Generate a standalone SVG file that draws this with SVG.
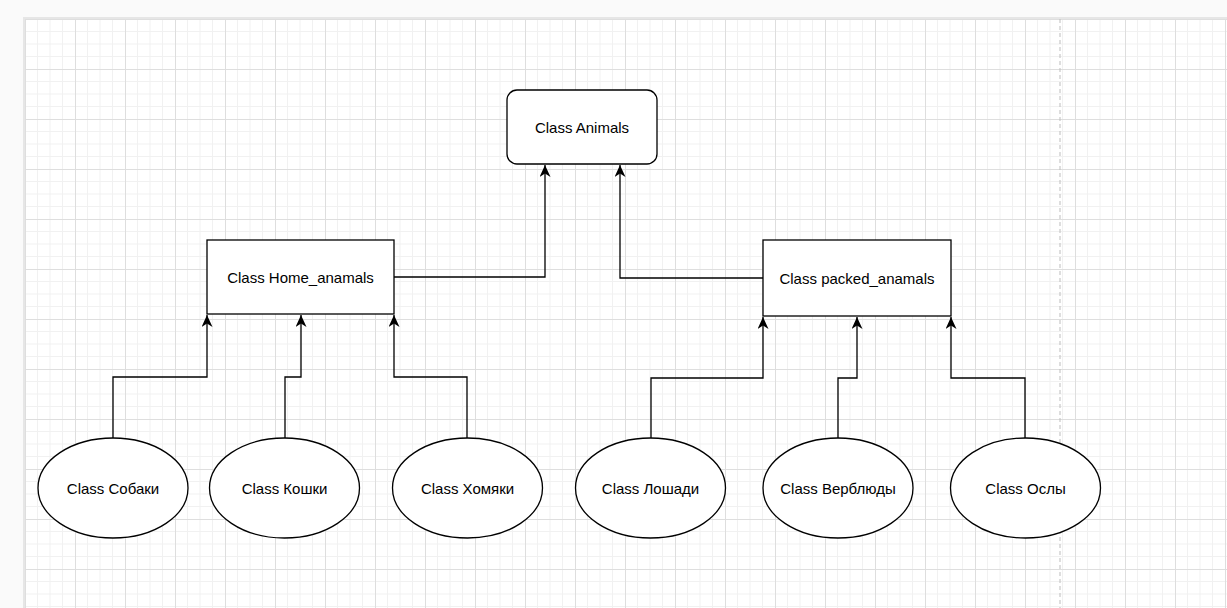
<svg xmlns="http://www.w3.org/2000/svg" width="1227" height="608" viewBox="0 0 1227 608">
<style>
.box{fill:#fff;stroke:#000;stroke-width:1.3}
.lbl{font-family:"Liberation Sans",Arial,sans-serif;font-size:15px;fill:#000;text-anchor:middle}
.edge{fill:none;stroke:#000;stroke-width:1.3}
</style>
<defs>
<pattern id="grid" patternUnits="userSpaceOnUse" x="25" y="19" width="50" height="50">
<rect width="50" height="50" fill="#fff"/>
<path d="M12.5 0V50M25 0V50M37.5 0V50M0 12.5H50M0 25H50M0 37.5H50" stroke="#f1f1f1" stroke-width="1"/>
<path d="M0.5 0V50M0 0.5H50" stroke="#dedede" stroke-width="1"/>
</pattern>
<marker id="arr" viewBox="0 0 12 11" refX="12" refY="5.5" markerWidth="12" markerHeight="11" markerUnits="userSpaceOnUse" orient="auto">
<path d="M12 5.5L0 0L3.5 5.5L0 11Z" fill="#000"/>
</marker>
</defs>
<rect width="1227" height="608" fill="#fafafa"/>
<rect x="23" y="17" width="1210" height="600" fill="#e6e6e6"/>
<rect x="25" y="19" width="1210" height="600" fill="url(#grid)"/>
<line x1="1060" y1="19" x2="1060" y2="608" stroke="#bdbdbd" stroke-width="1" stroke-dasharray="4 3"/>
<g id="connectors">
<path class="edge" d="M113 438V377H207V315" marker-end="url(#arr)"/>
<path class="edge" d="M285 438V377H301V315" marker-end="url(#arr)"/>
<path class="edge" d="M467 438V377H394V315" marker-end="url(#arr)"/>
<path class="edge" d="M394 277H545V165" marker-end="url(#arr)"/>
<path class="edge" d="M763 278H620V165" marker-end="url(#arr)"/>
<path class="edge" d="M651 438V378H763V317" marker-end="url(#arr)"/>
<path class="edge" d="M838 438V378H857V317" marker-end="url(#arr)"/>
<path class="edge" d="M1025 438V378H951V317" marker-end="url(#arr)"/>
</g>
<g id="animals"><rect class="box" x="507" y="90" width="150" height="74" rx="10"/><text class="lbl" x="582" y="133">Class Animals</text></g>
<g id="home"><rect class="box" x="207" y="240" width="187" height="74"/><text class="lbl" x="300.5" y="283">Class Home_anamals</text></g>
<g id="packed"><rect class="box" x="763" y="240" width="188" height="76"/><text class="lbl" x="857" y="284">Class packed_anamals</text></g>
<g id="dogs"><ellipse class="box" cx="113" cy="488" rx="75" ry="50"/><text class="lbl" x="113" y="494">Class Собаки</text></g>
<g id="cats"><ellipse class="box" cx="284.5" cy="488" rx="75" ry="50"/><text class="lbl" x="284.5" y="494">Class Кошки</text></g>
<g id="hamsters"><ellipse class="box" cx="467.5" cy="488" rx="75" ry="50"/><text class="lbl" x="467.5" y="494">Class Хомяки</text></g>
<g id="horses"><ellipse class="box" cx="650.5" cy="488" rx="75" ry="50"/><text class="lbl" x="650.5" y="494">Class Лошади</text></g>
<g id="camels"><ellipse class="box" cx="838" cy="488" rx="75" ry="50"/><text class="lbl" x="838" y="494">Class Верблюды</text></g>
<g id="donkeys"><ellipse class="box" cx="1025.5" cy="488" rx="75" ry="50"/><text class="lbl" x="1025.5" y="494">Class Ослы</text></g>
</svg>
